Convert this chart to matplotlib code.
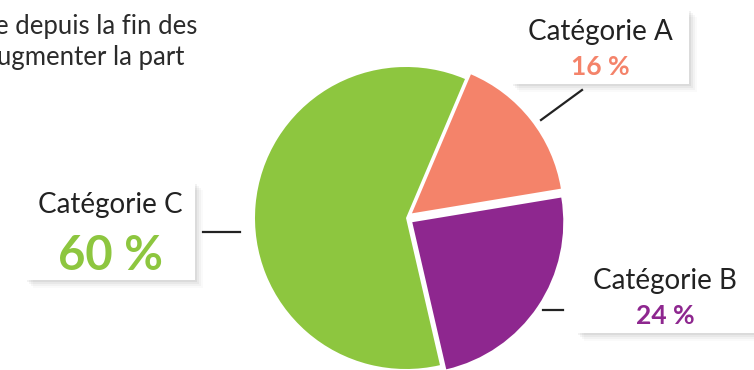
import matplotlib.pyplot as plt
from matplotlib.patches import Rectangle

W, H = 754, 370

categories = ['Catégorie A', 'Catégorie B', 'Catégorie C']
shares = [16, 24, 60]
colors = ['#F4836A', '#8E278F', '#8DC63F']
explode = [0.05, 0.05, 0.0]

plt.rcParams['font.family'] = ['Lato', 'DejaVu Sans']


def px(x, y):
    # pixel position (from top-left) -> figure fraction
    return x / W, 1 - y / H


fig = plt.figure(figsize=(W / 100, H / 100), dpi=100)

# pie, centre and radius in pixels
cx, cy, r = 406, 218, 151
lim = 1.25
side = 2 * r * lim
x0, y0 = px(cx - side / 2, cy + side / 2)
ax = fig.add_axes([x0, y0, side / W, side / H])
ax.pie(shares, colors=colors, explode=explode, startangle=67,
       counterclock=False, radius=1.0,
       wedgeprops=dict(linewidth=0))
ax.set_xlim(-lim, lim)
ax.set_ylim(-lim, lim)
ax.set_aspect('equal')
ax.set_axis_off()

# intro text cut at the left edge
fig.text(*px(-5, 34), 'e depuis la fin des', fontsize=18.5, color='#2b2b2b',
         ha='left', va='baseline')
fig.text(*px(-3, 65), 'ugmenter la part', fontsize=18.5, color='#2b2b2b',
         ha='left', va='baseline')


def label_box(x, y, w, h, name, value, color, big):
    bx, by = px(x, y + h)
    # soft shadow
    for i, a in enumerate([0.05, 0.04, 0.03, 0.02]):
        d = 2 + i * 2
        fig.patches.append(Rectangle(px(x + d, y + h + d), w / W, h / H,
                                     transform=fig.transFigure,
                                     facecolor='black', alpha=a,
                                     edgecolor='none', zorder=1))
    fig.patches.append(Rectangle((bx, by), w / W, h / H,
                                 transform=fig.transFigure,
                                 facecolor='white', edgecolor='none',
                                 zorder=2))
    mx = x + w / 2
    if big:
        fig.text(*px(mx, y + 31), name, fontsize=20, color='#222222',
                 ha='center', va='baseline', zorder=3)
        fig.text(*px(mx, y + 88), f'{value} %', fontsize=34,
                 fontweight='bold', color=color, ha='center',
                 va='baseline', zorder=3)
    else:
        fig.text(*px(mx, y + 31), name, fontsize=20, color='#222222',
                 ha='center', va='baseline', zorder=3)
        fig.text(*px(mx, y + 66), f'{value} %', fontsize=19,
                 fontweight='bold', color=color, ha='center',
                 va='baseline', zorder=3)


def leader(xa, ya, xb, yb):
    fig.add_artist(plt.Line2D([xa / W, xb / W], [1 - ya / H, 1 - yb / H],
                              transform=fig.transFigure, color='#222222',
                              linewidth=1.6))


label_box(511, 9, 178, 75, categories[0], shares[0], colors[0], False)
label_box(576, 258, 178, 75, categories[1], shares[1], colors[1], False)
label_box(25, 182, 170, 98, categories[2], shares[2], colors[2], True)

leader(582, 90, 541, 120)
leader(543, 310, 563, 310)
leader(203, 232, 240, 232)

fig.savefig('out.png', dpi=100)
